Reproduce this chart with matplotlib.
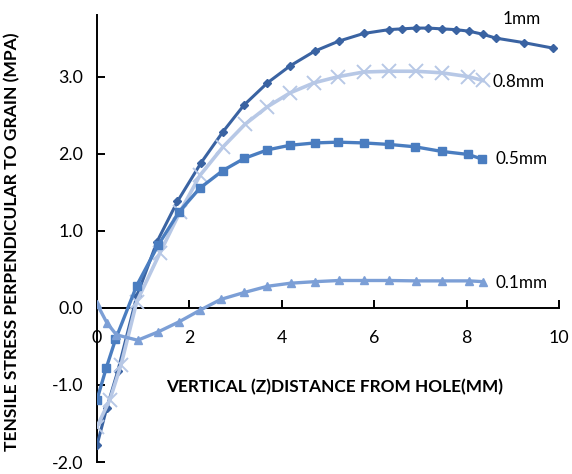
import matplotlib
matplotlib.use("Agg")
import matplotlib.pyplot as plt

plt.rcParams['font.family'] = ['Lato', 'DejaVu Sans']
plt.rcParams['axes.unicode_minus'] = False

# Stress profiles along the vertical distance from the hole, per hole offset
x_1mm = [0, 0.21, 0.45, 0.86, 1.30, 1.74, 2.25, 2.72, 3.18, 3.69, 4.18, 4.71,
         5.23, 5.77, 6.32, 6.60, 6.90, 7.17, 7.46, 7.76, 8.05, 8.35, 8.63, 9.25, 9.87]
y_1mm = [-1.78, -1.30, -0.82, 0.15, 0.86, 1.38, 1.88, 2.28, 2.63, 2.92, 3.14, 3.33,
         3.46, 3.56, 3.61, 3.62, 3.63, 3.63, 3.62, 3.61, 3.59, 3.55, 3.50, 3.44, 3.37]

x_08mm = [0, 0.28, 0.52, 0.86, 1.36, 1.80, 2.23, 2.73, 3.20, 3.69, 4.18, 4.70,
          5.22, 5.77, 6.32, 6.90, 7.46, 8.04, 8.35]
y_08mm = [-1.54, -1.19, -0.74, 0.08, 0.71, 1.25, 1.72, 2.09, 2.38, 2.61, 2.79, 2.92,
          3.00, 3.06, 3.07, 3.07, 3.05, 3.00, 2.95]

x_05mm = [0, 0.20, 0.40, 0.86, 1.32, 1.77, 2.22, 2.72, 3.19, 3.69, 4.18, 4.72,
          5.22, 5.77, 6.33, 6.88, 7.46, 8.04, 8.33]
y_05mm = [-1.19, -0.78, -0.41, 0.29, 0.81, 1.24, 1.55, 1.78, 1.94, 2.05, 2.11, 2.14,
          2.15, 2.14, 2.12, 2.09, 2.03, 1.99, 1.93]

x_01mm = [0, 0.21, 0.42, 0.88, 1.33, 1.78, 2.23, 2.68, 3.19, 3.69, 4.19, 4.72,
          5.24, 5.78, 6.33, 6.90, 7.46, 8.06, 8.36]
y_01mm = [0.05, -0.19, -0.35, -0.42, -0.31, -0.18, -0.03, 0.11, 0.20, 0.28, 0.32, 0.34,
          0.355, 0.355, 0.355, 0.35, 0.35, 0.35, 0.34]

x_ticks = [2, 4, 6, 8, 10]
y_ticks = [-2.0, -1.0, 0.0, 1.0, 2.0, 3.0]

fig = plt.figure(figsize=(5.72, 4.74), dpi=100)
ax = fig.add_axes([0.1696, 0.0253, 0.8077, 0.9431])

c1 = '#3A63A2'
c08 = '#B7C8E6'
c05 = '#4A7DC0'
c01 = '#7C9FD6'

ax.plot(x_1mm, y_1mm, color=c1, lw=2.2, marker='D', ms=4.2, zorder=3)
ax.plot(x_08mm, y_08mm, color=c08, lw=2.6, marker='x', ms=10, mew=1.4, zorder=4)
ax.plot(x_05mm, y_05mm, color=c05, lw=2.4, marker='s', ms=5.5, zorder=5)
ax.plot(x_01mm, y_01mm, color=c01, lw=2.4, marker='^', ms=6, zorder=6)

ax.set_xlim(0, 10)
ax.set_ylim(-2.0, 3.8)

ax.spines['top'].set_visible(False)
ax.spines['right'].set_visible(False)
ax.spines['bottom'].set_position(('data', 0))
ax.spines['left'].set_bounds(-2.0, 3.8)
for s in ('left', 'bottom'):
    ax.spines[s].set_linewidth(1.4)
    ax.spines[s].set_color('black')

ax.set_xticks([0] + x_ticks)
ax.set_xticklabels(['0'] + [str(v) for v in x_ticks])
ax.set_yticks(y_ticks)
ax.set_yticklabels([f'{v:.1f}' for v in y_ticks])
ax.tick_params(axis='x', direction='in', length=6, width=1.4, pad=16, labelsize=12.8)
ax.tick_params(axis='y', direction='in', length=6, width=1.4, pad=10, labelsize=12.8)

ax.set_xlabel('VERTICAL (Z)DISTANCE FROM HOLE(MM)', fontsize=12.4, fontweight='bold')
ax.xaxis.set_label_coords(0.515, 0.185)
ax.set_ylabel('TENSILE STRESS PERPENDICULAR TO GRAIN (MPA)', fontsize=12.6, fontweight='bold')
ax.yaxis.set_label_coords(-0.167, 0.492)

# Series names next to the curve ends
ax.annotate('1mm', xy=(x_1mm[-1], y_1mm[-1]), xytext=(-36, 21),
            textcoords='offset points', fontsize=12.3, va='center', ha='left')
ax.annotate('0.8mm', xy=(x_08mm[-1], y_08mm[-1]), xytext=(7, -1),
            textcoords='offset points', fontsize=12.3, va='center', ha='left')
ax.annotate('0.5mm', xy=(x_05mm[-1], y_05mm[-1]), xytext=(10, 0),
            textcoords='offset points', fontsize=12.3, va='center', ha='left')
ax.annotate('0.1mm', xy=(x_01mm[-1], y_01mm[-1]), xytext=(9, -1),
            textcoords='offset points', fontsize=12.3, va='center', ha='left')

fig.savefig('out.png', dpi=100)
